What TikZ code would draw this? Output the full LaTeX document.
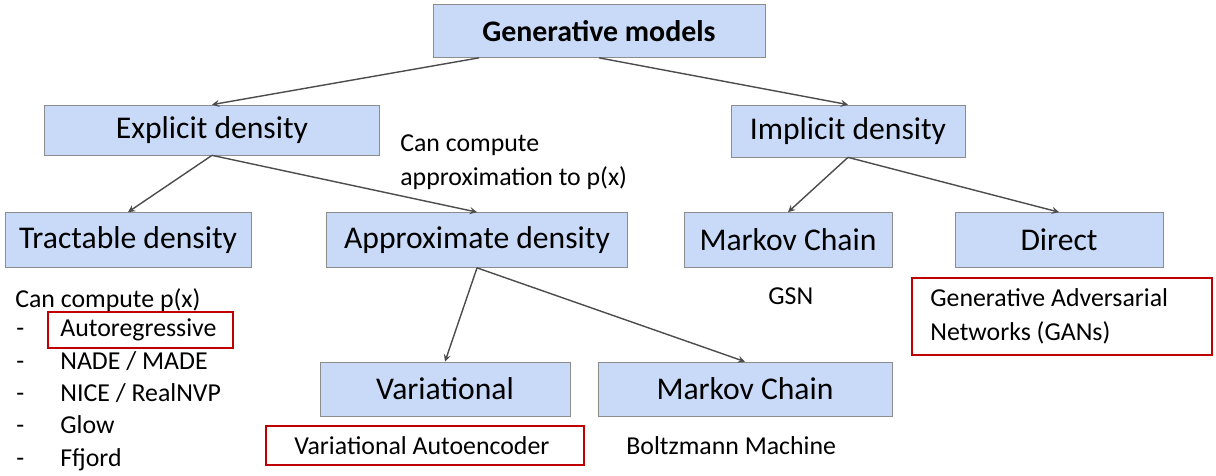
\documentclass[tikz,border=0pt]{standalone}
\usepackage{fontspec}
\setmainfont{Carlito}
\usetikzlibrary{arrows,positioning}
\definecolor{boxBlue}{HTML}{C9DAF8}
\definecolor{boxLine}{HTML}{8C8C8C}
\definecolor{redLine}{HTML}{C00000}
\begin{document}
\begin{tikzpicture}[x=0.02cm,y=-0.02cm]
\tikzset{myBox/.style={draw=boxLine,fill=boxBlue,font=\fontsize{18}{22}\selectfont,inner sep=0pt}}
\tikzset{myText/.style={font=\fontsize{14.7}{19.5}\selectfont,inner sep=0pt,anchor=west}}
\tikzset{myRed/.style={draw=redLine,line width=1.2pt}}
\tikzset{myArrow/.style={draw=black!70,line width=0.8pt,-stealth}}
\useasboundingbox (0,0) rectangle (1216,476);

\node[myBox,minimum width=332*0.02cm,minimum height=53*0.02cm,font=\bfseries\fontsize{17}{20}\selectfont] (gen) at (599,31) {Generative models};
\node[myBox,minimum width=335*0.02cm,minimum height=50*0.02cm] (explicit) at (212,130) {Explicit density};
\node[myBox,minimum width=234*0.02cm,minimum height=52*0.02cm] (implicit) at (848,131) {Implicit density};
\node[myBox,minimum width=246*0.02cm,minimum height=55*0.02cm] (tract) at (128,240) {Tractable density};
\node[myBox,minimum width=301*0.02cm,minimum height=55*0.02cm] (approx) at (477,240) {Approximate density};
\node[myBox,minimum width=208*0.02cm,minimum height=55*0.02cm] (markov1) at (788,240) {Markov Chain};
\node[myBox,minimum width=208*0.02cm,minimum height=55*0.02cm] (direct) at (1059,240) {Direct};
\node[myBox,minimum width=250*0.02cm,minimum height=54*0.02cm] (vari) at (445,389) {Variational};
\node[myBox,minimum width=294*0.02cm,minimum height=54*0.02cm] (markov2) at (745,389) {Markov Chain};

% texts
\node[myText,align=left] (approxNote) at (400,162) {Can compute\\approximation to p(x)};
\node[myText] (tractNote) at (15,300) {Can compute p(x)};
\foreach \y/\t [count=\i] in {330/{Autoregressive},363/{NADE / MADE},395/{NICE / RealNVP},427/{Glow},460/{Ffjord}}{
  \node[myText] (dash\i) at (16,\y) {\strut-};
  \node[myText] (item\i) at (60,\y) {\strut\t};
}
\node[myText] (gsn) at (768,296) {GSN};
\node[myText,align=left] (gan) at (930,316) {Generative Adversarial\\Networks (GANs)};
\node[myText] (vae) at (294,446) {Variational Autoencoder};
\node[myText] (boltz) at (626,446) {Boltzmann Machine};

% red boxes
\draw[myRed] (48,312) rectangle (233,348);
\draw[myRed] (912,278) rectangle (1212,355);
\draw[myRed] (266,426) rectangle (584,465);

% arrows
\draw[myArrow] (gen.south) ++(-120,0) -- (explicit.north);
\draw[myArrow] (gen.south) -- (implicit.north);
\draw[myArrow] (explicit.south) -- (tract.north);
\draw[myArrow] (explicit.south) -- (approx.north);
\draw[myArrow] (approx.south) -- (vari.north);
\draw[myArrow] (approx.south) -- (markov2.north);
\draw[myArrow] (implicit.south) -- (markov1.north);
\draw[myArrow] (implicit.south) -- (direct.north);
\end{tikzpicture}
\end{document}
